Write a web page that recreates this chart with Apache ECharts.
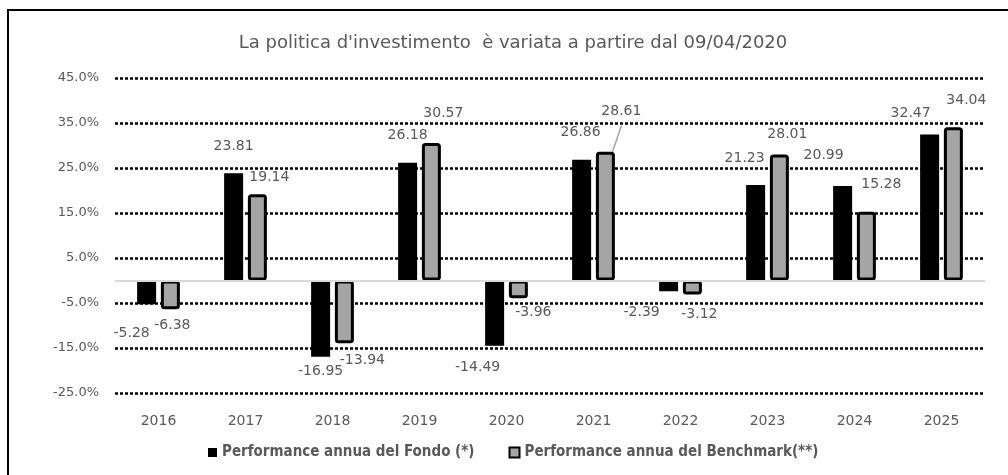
<!DOCTYPE html>
<html>
<head>
<meta charset="utf-8">
<script src="https://cdn.jsdelivr.net/npm/echarts@6/dist/echarts.min.js"></script>
<style>
html,body{margin:0;padding:0;background:#fff;overflow:hidden;width:1008px;height:475px;}
#frame{position:absolute;left:7px;top:9px;width:1020px;height:480px;border-left:2px solid #000;border-top:2px solid #000;}
#chart{position:absolute;left:0;top:0;width:1008px;height:475px;}
</style>
</head>
<body>
<div id="frame"></div>
<div id="chart"></div>
<script>
const titleText = "La politica d'investimento  è variata a partire dal 09/04/2020";
const years = ['2016','2017','2018','2019','2020','2021','2022','2023','2024','2025'];
const fundName = 'Performance annua del Fondo (*)';
const benchName = 'Performance annua del Benchmark(**)';
const fund = [-5.28, 23.81, -16.95, 26.18, -14.49, 26.86, -2.39, 21.23, 20.99, 32.47];
const bench = [-6.38, 19.14, -13.94, 30.57, -3.96, 28.61, -3.12, 28.01, 15.28, 34.04];

// label placement tweaks (pixels): distance of label centre from bar end, and horizontal shift
const fundLblGap = [29, 27, 15, 27, 22, 27, 21, 27, 31, 21];
const fundLblDx  = [-15, 0, 0, 0, -17, -1, -27, -11, -19, -19];
const benchLblGap = [16, 17, 17, 30, 14, 40, 20, 20, 27, 27];
const benchLblDx  = [2, 12, 18, 12, 15, 16, 7, 8, 15, 13];
const leaderIdx = 5; // benchmark 2021 label has a leader line

const txt = '#595959';
const lblFont = 'DejaVu Sans';
const legFont = 'DejaVu Sans Condensed, DejaVu Sans';
const halfH = 7;

function mk(arr, gaps, dxs, leader){
  return arr.map((v, i) => {
    const item = {
      value: v,
      label: { position: v >= 0 ? 'top' : 'bottom', distance: Math.max(0, gaps[i] - halfH), offset: [dxs[i], 0] }
    };
    if (i === leader) item.labelLine = { show: true, lineStyle: { color: '#a6a6a6', width: 1.5 } };
    return item;
  });
}

const chart = echarts.init(document.getElementById('chart'), null, {renderer:'canvas'});
chart.setOption({
  animation: false,
  backgroundColor: 'transparent',
  title: {
    text: titleText, left: 508, top: 29, textAlign: 'center',
    textStyle: { fontFamily: 'DejaVu Sans', fontSize: 18, fontWeight: 'normal', color: txt }
  },
  legend: [
    {
      left: 208, top: 445, padding: 0, itemWidth: 9, itemHeight: 9,
      textStyle: { fontFamily: legFont, fontSize: 15, fontWeight: 'bold', color: txt },
      data: [{name: fundName, icon: 'rect'}]
    },
    {
      left: 508.5, top: 445, padding: 0, itemWidth: 10, itemHeight: 10,
      textStyle: { fontFamily: legFont, fontSize: 15, fontWeight: 'bold', color: txt },
      data: [{name: benchName, icon: 'rect'}]
    }
  ],
  grid: { left: 115, right: 23, top: 78, bottom: 82 },
  xAxis: {
    type: 'category', data: years,
    axisLine: { show: false }, axisTick: { show: false },
    axisLabel: { color: txt, fontFamily: lblFont, fontSize: 14, margin: 21 }
  },
  yAxis: {
    type: 'value', min: -25, max: 45, interval: 10,
    axisLine: { show: false }, axisTick: { show: false },
    axisLabel: { color: txt, fontFamily: lblFont, fontSize: 13, margin: 16,
      formatter: v => v.toFixed(1) + '%' },
    splitLine: { lineStyle: { color: '#000', width: 2.5, type: [3, 2] } }
  },
  series: [
    {
      name: fundName, type: 'bar', barWidth: 19, barGap: '25%',
      data: mk(fund, fundLblGap, fundLblDx, -1),
      itemStyle: { color: '#000' },
      label: { show: true, color: txt, fontFamily: lblFont, fontSize: 14,
        formatter: p => p.value.toFixed(2) },
      markLine: {
        silent: true, symbol: 'none', label: { show: false },
        lineStyle: { color: '#d9d9d9', width: 2, type: 'solid' },
        data: [{ yAxis: 0 }]
      }
    },
    {
      name: benchName, type: 'bar', barWidth: 19,
      data: mk(bench, benchLblGap, benchLblDx, leaderIdx),
      itemStyle: { color: '#a5a5a5', borderColor: '#000', borderWidth: 3, borderRadius: 2 },
      labelLine: { show: false },
      label: { show: true, color: txt, fontFamily: lblFont, fontSize: 14,
        formatter: p => p.value.toFixed(2) }
    }
  ]
});
</script>
</body>
</html>
